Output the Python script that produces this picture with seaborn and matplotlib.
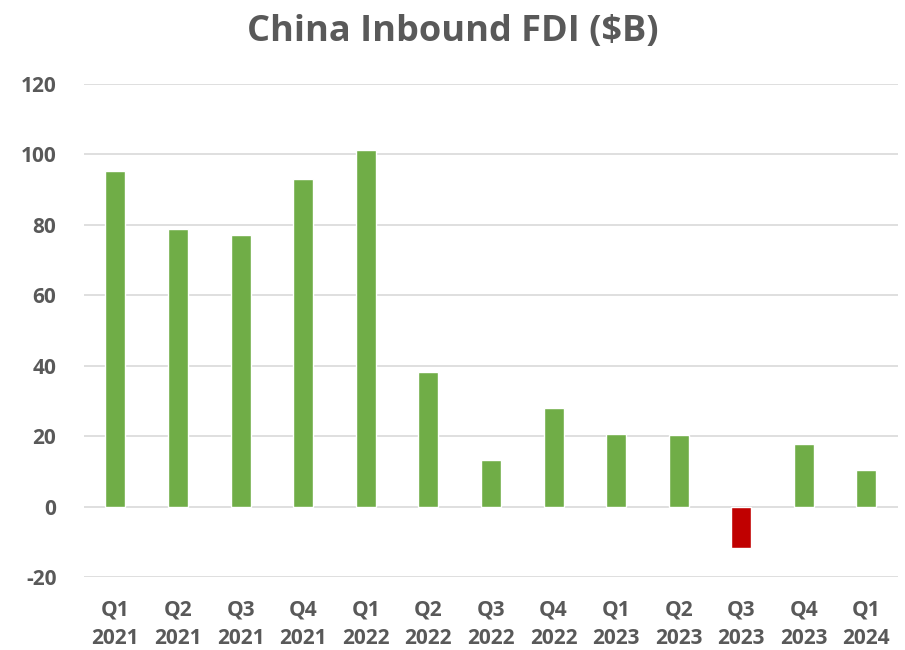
import numpy as np
import pandas as pd
import matplotlib
matplotlib.use('Agg')
import matplotlib.pyplot as plt
import seaborn as sns

quarters = ['Q1', 'Q2', 'Q3', 'Q4', 'Q1', 'Q2', 'Q3', 'Q4', 'Q1', 'Q2', 'Q3', 'Q4', 'Q1']
years = ['2021', '2021', '2021', '2021', '2022', '2022', '2022', '2022',
         '2023', '2023', '2023', '2023', '2024']
fdi = [95.2, 78.7, 77.0, 93.0, 101.3, 38.1, 13.3, 27.9, 20.7, 20.3, -11.7, 17.8, 10.4]

sns.set_theme(style='white')
plt.rcParams['font.family'] = ['Open Sans', 'DejaVu Sans']
plt.rcParams['axes.unicode_minus'] = False

df = pd.DataFrame({'label': [q + '\n' + y for q, y in zip(quarters, years)], 'fdi': fdi})
colors = {lab: ('#C00000' if v < 0 else '#70AD47') for lab, v in zip(df.label, df.fdi)}

fig = plt.figure(figsize=(9.05, 6.5), dpi=100)
ax = fig.add_axes([0.093, 0.112, 0.899, 0.759])
sns.barplot(data=df, x='label', y='fdi', hue='label', palette=colors,
            legend=False, width=0.32, ax=ax, zorder=3, saturation=1)

ax.set_ylim(-20, 120)
ax.set_xlim(-0.5, len(df) - 0.5)
ax.set_yticks(range(-20, 121, 20))
ax.yaxis.grid(True, color='#d9d9d9', linewidth=1.2, zorder=0)
ax.set_axisbelow(True)
for s in ax.spines.values():
    s.set_visible(False)
ax.set_xlabel('')
ax.set_ylabel('')
ax.tick_params(axis='both', length=0, labelsize=15, labelcolor='#595959')
ax.tick_params(axis='x', pad=16)
ax.tick_params(axis='y', pad=20)
for t in ax.get_xticklabels():
    t.set_fontweight('bold')
    t.set_linespacing(1.45)
for t in ax.get_yticklabels():
    t.set_fontweight('bold')

fig.suptitle('China Inbound FDI ($B)', fontsize=26, fontweight='bold',
             color='#595959', y=0.978)

plt.savefig('out.png', dpi=100)
